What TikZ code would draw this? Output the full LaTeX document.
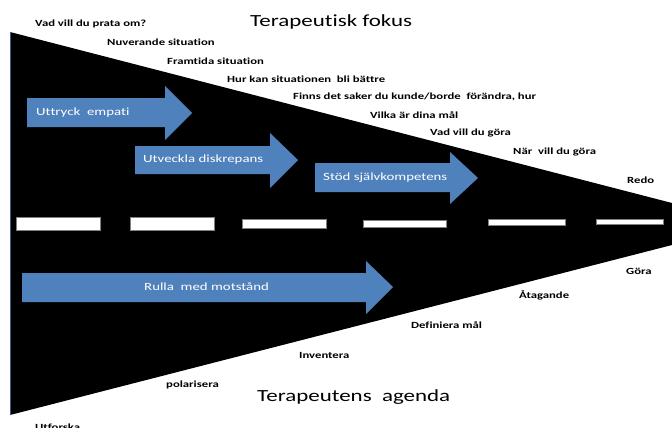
\documentclass[tikz,border=0pt]{standalone}
\usepackage{fontspec}
\setmainfont{Carlito}[FakeStretch=1.35, Ligatures=NoCommon]
\definecolor{pilblue}{RGB}{79,129,189}
\definecolor{kant}{RGB}{60,90,140}
\tikzset{
  fraga/.style={anchor=west, inner sep=0pt, font=\fontsize{9.4}{10}\selectfont\bfseries},
  pil/.style={fill=pilblue},
  piltext/.style={anchor=west, inner sep=0pt, text=white, font=\fontsize{11}{12}\selectfont},
  rubrik/.style={anchor=west, inner sep=0pt, font=\fontsize{17}{19}\selectfont},
  streck/.style={fill=white, draw=gray, line width=0.4pt}
}
\begin{document}
\begin{tikzpicture}[x=1pt,y=-1pt]
        \useasboundingbox (0,0) rectangle (672,428);
        \clip (0,0) rectangle (672,428);
        \fill[black] (10,32) -- (672,203) -- (672,245) -- (10,415) -- cycle;
        \draw[kant, line width=0.8pt] (10,32) -- (10,415);
        \foreach \a/\b/\c/\d in {16/217/100/230, 130/217/214/230, 242/219/326/228,
                363/220/446/227, 488/219/565/225, 596/219/663/224}
                \draw[streck] (\a,\b) rectangle (\c,\d);
        \fill[pil] (27,98) -- (165,98) -- (165,86) -- (192,113) -- (165,140) -- (165,127) -- (27,127) -- cycle;
        \fill[pil] (135,146) -- (270,146) -- (270,133) -- (298,160) -- (270,188) -- (270,174) -- (135,174) -- cycle;
        \fill[pil] (315,163) -- (450,163) -- (450,152) -- (478,178) -- (450,204) -- (450,192) -- (315,192) -- cycle;
        \fill[pil] (22,273) -- (366,273) -- (366,261) -- (393,287) -- (366,314) -- (366,302) -- (22,302) -- cycle;
        \node[piltext] (p1) at (36,113) {Uttryck\ \ empati};
        \node[piltext] (p2) at (143,160) {Utveckla diskrepans};
        \node[piltext] (p3) at (323,178) {Stöd självkompetens};
        \node[piltext] (p4) at (144,287) {Rulla\ \ med motstånd};
        \node[rubrik] (t1) at (250,22) {Terapeutisk fokus};
        \node[rubrik] (t2) at (257,397) {Terapeutens\ \ agenda};
        \node[fraga] (q1) at (35,24) {Vad vill du prata om?};
        \node[fraga] (q2) at (107,42) {Nuverande situation};
        \node[fraga] (q3) at (167,61) {Framtida situation};
        \node[fraga] (q4) at (227,79) {Hur kan situationen\ \ bli bättre};
        \node[fraga] (q5) at (293,97) {Finns det saker du kunde/borde\ \ förändra, hur};
        \node[fraga] (q6) at (370,115) {Vilka är dina mål};
        \node[fraga] (q7) at (430,133) {Vad vill du göra};
        \node[fraga] (q8) at (513,152) {När\ \ vill du göra};
        \node[fraga] (q9) at (627,180) {Redo};
        \node[fraga] (g1) at (626,271) {Göra};
        \node[fraga] (g2) at (519,295) {Åtagande};
        \node[fraga] (g3) at (411,325) {Definiera mål};
        \node[fraga] (g4) at (299,355) {Inventera};
        \node[fraga] (g5) at (166,385) {polarisera};
        \node[fraga, anchor=base west] (g6) at (35,430) {Utforska};
\end{tikzpicture}
\end{document}
